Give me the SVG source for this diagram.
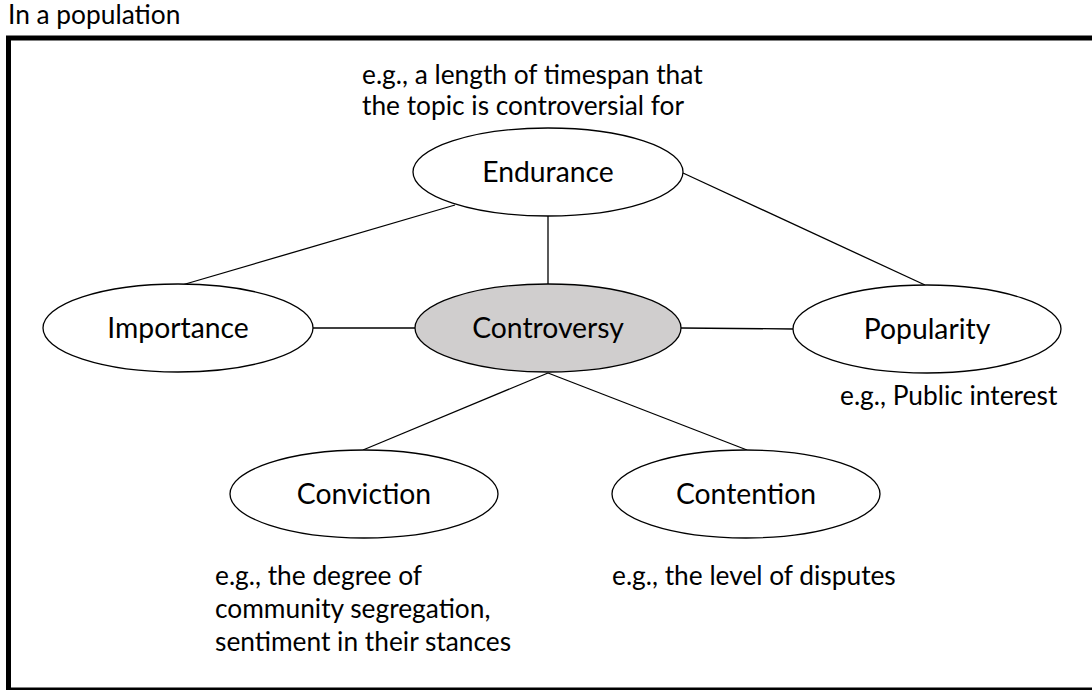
<svg xmlns="http://www.w3.org/2000/svg" width="1092" height="690" viewBox="0 0 1092 690">
<style>
text{font-family:Lato,"Noto Sans","Liberation Sans",sans-serif;fill:#000}
.lbl{font-size:28.3px;text-anchor:middle}
.note{font-size:26.3px}
.node ellipse{fill:#fff;stroke:#000;stroke-width:1.3}
#controversy ellipse{fill:#d0cece}
.edges line{stroke:#000;stroke-width:1.3}
</style>
<rect width="1092" height="690" fill="#fff"/>
<text x="8" y="24" style="font-size:26.3px">In a population</text>
<rect x="8.5" y="38" width="1090" height="652" fill="none" stroke="#000" stroke-width="5"/>
<g class="edges">
<line x1="455" y1="205" x2="182" y2="285"/>
<line x1="548" y1="216" x2="548" y2="284"/>
<line x1="683" y1="173" x2="925" y2="285"/>
<line x1="313" y1="328" x2="415" y2="328"/>
<line x1="681" y1="328" x2="793" y2="329"/>
<line x1="548" y1="373" x2="363" y2="450"/>
<line x1="548" y1="373" x2="747" y2="450"/>
</g>
<g id="endurance" class="node"><ellipse cx="548" cy="172" rx="135" ry="44"/><text class="lbl" x="548" y="182">Endurance</text></g>
<g id="importance" class="node"><ellipse cx="178" cy="328" rx="135" ry="44"/><text class="lbl" x="178" y="338">Importance</text></g>
<g id="controversy" class="node"><ellipse cx="548" cy="328" rx="133" ry="44"/><text class="lbl" x="548" y="338">Controversy</text></g>
<g id="popularity" class="node"><ellipse cx="927" cy="329" rx="134" ry="44"/><text class="lbl" x="927" y="339">Popularity</text></g>
<g id="conviction" class="node"><ellipse cx="364" cy="494" rx="134" ry="44"/><text class="lbl" x="364" y="504">Conviction</text></g>
<g id="contention" class="node"><ellipse cx="746" cy="494" rx="134" ry="44"/><text class="lbl" x="746" y="504">Contention</text></g>
<g id="notes">
<text class="note" x="362" y="84">e.g., a length of timespan that</text>
<text class="note" x="362" y="115">the topic is controversial for</text>
<text class="note" x="840" y="405">e.g., Public interest</text>
<text class="note" x="215" y="585">e.g., the degree of</text>
<text class="note" x="215" y="618">community segregation,</text>
<text class="note" x="215" y="651">sentiment in their stances</text>
<text class="note" x="612" y="585">e.g., the level of disputes</text>
</g>
</svg>
